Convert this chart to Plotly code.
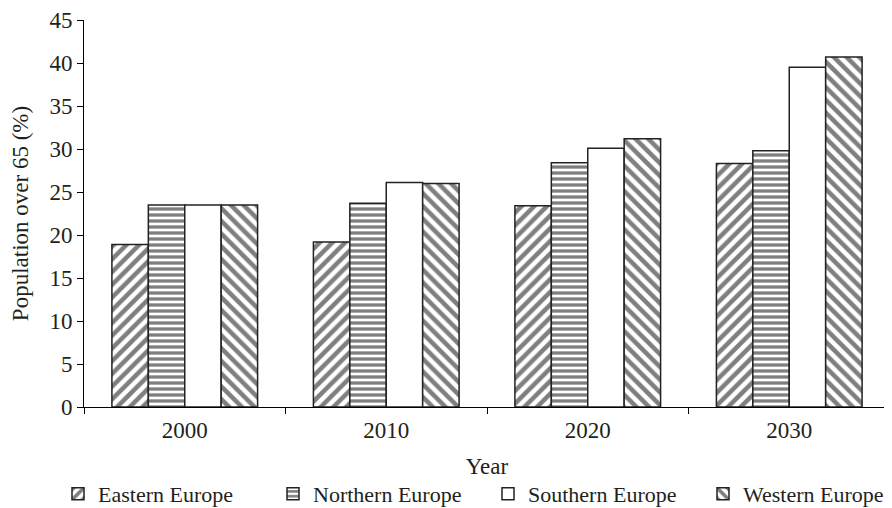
import plotly.graph_objects as go

years = ["2000", "2010", "2020", "2030"]
eastern = [18.9, 19.2, 23.4, 28.3]
northern = [23.5, 23.7, 28.4, 29.8]
southern = [23.5, 26.1, 30.1, 39.5]
western = [23.5, 26.0, 31.2, 40.7]

series = [
    ("Eastern Europe", eastern, "/", 9, 0.5),
    ("Northern Europe", northern, "-", 6, 0.55),
    ("Southern Europe", southern, "", 7, 0.3),
    ("Western Europe", western, "\\", 9, 0.5),
]

fig = go.Figure()
for name, vals, shape, size, sol in series:
    fig.add_trace(go.Bar(
        name=name, x=years, y=vals,
        marker=dict(
            color="white",
            line=dict(color="#222222", width=1.5),
            pattern=dict(shape=shape, fgcolor="black", bgcolor="white",
                         size=size, solidity=sol, fillmode="overlay"),
        ),
    ))

font = "Liberation Serif, Times New Roman, serif"
# page body has an 8px margin, so the figure is drawn at (8, 8)
W, H = 884, 500
L, R, T, B = 76, 2, 12, 101
pw = W - L - R
ph = H - T - B
FS = 23
fig.update_layout(
    width=W, height=H,
    margin=dict(l=L, r=R, t=T, b=B, autoexpand=False),
    barmode="group", bargap=0.277, bargroupgap=0,
    plot_bgcolor="white", paper_bgcolor="white",
    font=dict(family=font, size=FS, color="#231f20"),
    showlegend=True,
    legend=dict(orientation="h", x=(50 - L) / pw, xanchor="left",
                y=-(486 - T - ph) / ph, yanchor="middle",
                font=dict(size=22), itemwidth=30, entrywidth=170,
                traceorder="normal", borderwidth=0, tracegroupgap=0),
    xaxis=dict(
        title=dict(text="Year", standoff=16, font=dict(size=FS)),
        showline=True, linecolor="black", linewidth=1,
        ticks="outside", tickson="boundaries", ticklen=6, tickcolor="black",
        showgrid=False, tickfont=dict(size=FS), automargin=False,
        ticklabelstandoff=2,
    ),
    yaxis=dict(
        title=dict(text="Population over 65 (%)", standoff=18, font=dict(size=FS)),
        range=[0, 45], dtick=5, showline=True, linecolor="black", linewidth=1,
        ticks="outside", ticklen=6, tickcolor="black", showgrid=False,
        zeroline=False, tickfont=dict(size=FS), automargin=False,
        ticklabeloverflow="allow",
    ),
)

fig.write_html("out.html")
